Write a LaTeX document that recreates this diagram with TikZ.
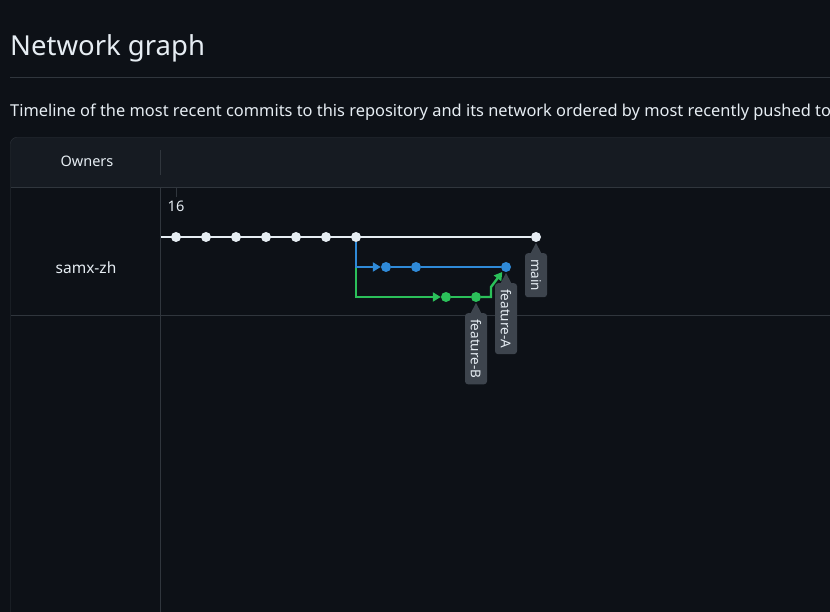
\documentclass[tikz,border=0pt]{standalone}
\usepackage{fontspec}
\setmainfont{Noto Sans}
\usetikzlibrary{arrows.meta}
\definecolor{bg}{HTML}{0D1117}
\definecolor{headbg}{HTML}{161B22}
\definecolor{rule}{HTML}{30363D}
\definecolor{fg}{HTML}{E6EDF3}
\definecolor{tagbg}{HTML}{3D444D}
\definecolor{bluebr}{HTML}{2F8AD8}
\definecolor{greenbr}{HTML}{2BC05A}
\newcommand{\px}[1]{\fontsize{#1}{#1}\selectfont}
\begin{document}
\begin{tikzpicture}[x=1pt,y=-1pt,
    commit/.style={circle,inner sep=0pt,minimum size=10pt,fill=#1},
    tag/.style={rotate=-90,fill=tagbg,text=fg,rounded corners=3pt,inner xsep=6pt,
      inner ysep=0pt,minimum height=22pt,font=\px{13.5}},
    txt/.style={text=fg,inner sep=0pt}]
  \useasboundingbox (0,0) rectangle (830,612);
  \clip (0,0) rectangle (830,612);
  \fill[bg] (0,0) rectangle (830,612);

  % heading
  \node[txt,anchor=base west,font=\px{27.5}] (title) at (10,56) {Network graph};
  \draw[rule] (10,77.5) -- (830,77.5);
  \node[txt,anchor=base west,font=\px{16.4}] (intro) at (10,117)
    {Timeline of the most recent commits to this repository and its network ordered by most recently pushed to};

  % table
  \fill[headbg,rounded corners=6pt] (10.5,137.5) rectangle (860,220);
  \fill[bg] (10.5,187) rectangle (860,640);
  \draw[rule,rounded corners=6pt] (860,137.5) -- (10.5,137.5) -- (10.5,640);
  \draw[rule] (10.5,187.5) -- (830,187.5);
  \draw[rule] (10.5,315.5) -- (830,315.5);
  \draw[rule] (160.5,150) -- (160.5,175);
  \draw[rule] (160.5,187.5) -- (160.5,612);
  \node[txt,font=\px{14.5}] (owners) at (87,161) {Owners};
  \node[txt,font=\px{15.5}] (owner) at (86,268) {samx-zh};
  \draw[rule] (176,188) -- (176,197);
  \node[txt,font=\px{14.5}] (day) at (176,206) {16};

  % main branch
  \coordinate (mstart) at (161,237);
  \foreach \i/\x in {1/176,2/206,3/236,4/266,5/296,6/326,7/356,8/536}
    \node[commit=fg] (m\i) at (\x,237) {};
  \draw[fg,line width=2.8pt] (mstart) -- (m8);

  % branches
  \node[commit=greenbr] (b1) at (446,297) {};
  \node[commit=greenbr] (b2) at (476,297) {};
  \node[commit=bluebr] (a1) at (386,267) {};
  \node[commit=bluebr] (a2) at (416,267) {};
  \node[commit=bluebr] (a3) at (506,267) {};
  \coordinate (bk) at (491,287);
  \begin{scope}[line width=2.4pt,>={Triangle[length=8pt,width=9pt]}]
    \draw[greenbr,->] (m7) |- (b1);
    \draw[greenbr] (b1) -- (b2);
    \draw[greenbr,->,shorten >=1pt] (b2) -| (bk) -- (a3);
    \draw[bluebr,->] (m7) |- (a1);
    \draw[bluebr] (a1) -- (a2) -- (a3);
  \end{scope}

  % branch tags
  \node[tag,anchor=west] (tmain) at (536,253) {main};
  \node[tag,anchor=west] (ta) at (506,283) {feature-A};
  \node[tag,anchor=west] (tb) at (476,313) {feature-B};
  \foreach \t in {tmain,ta,tb}
    \fill[tagbg] (\t.west) ++(0,-10) -- ++(-5.5,10.5) -- ++(11,0) -- cycle;
\end{tikzpicture}
\end{document}
